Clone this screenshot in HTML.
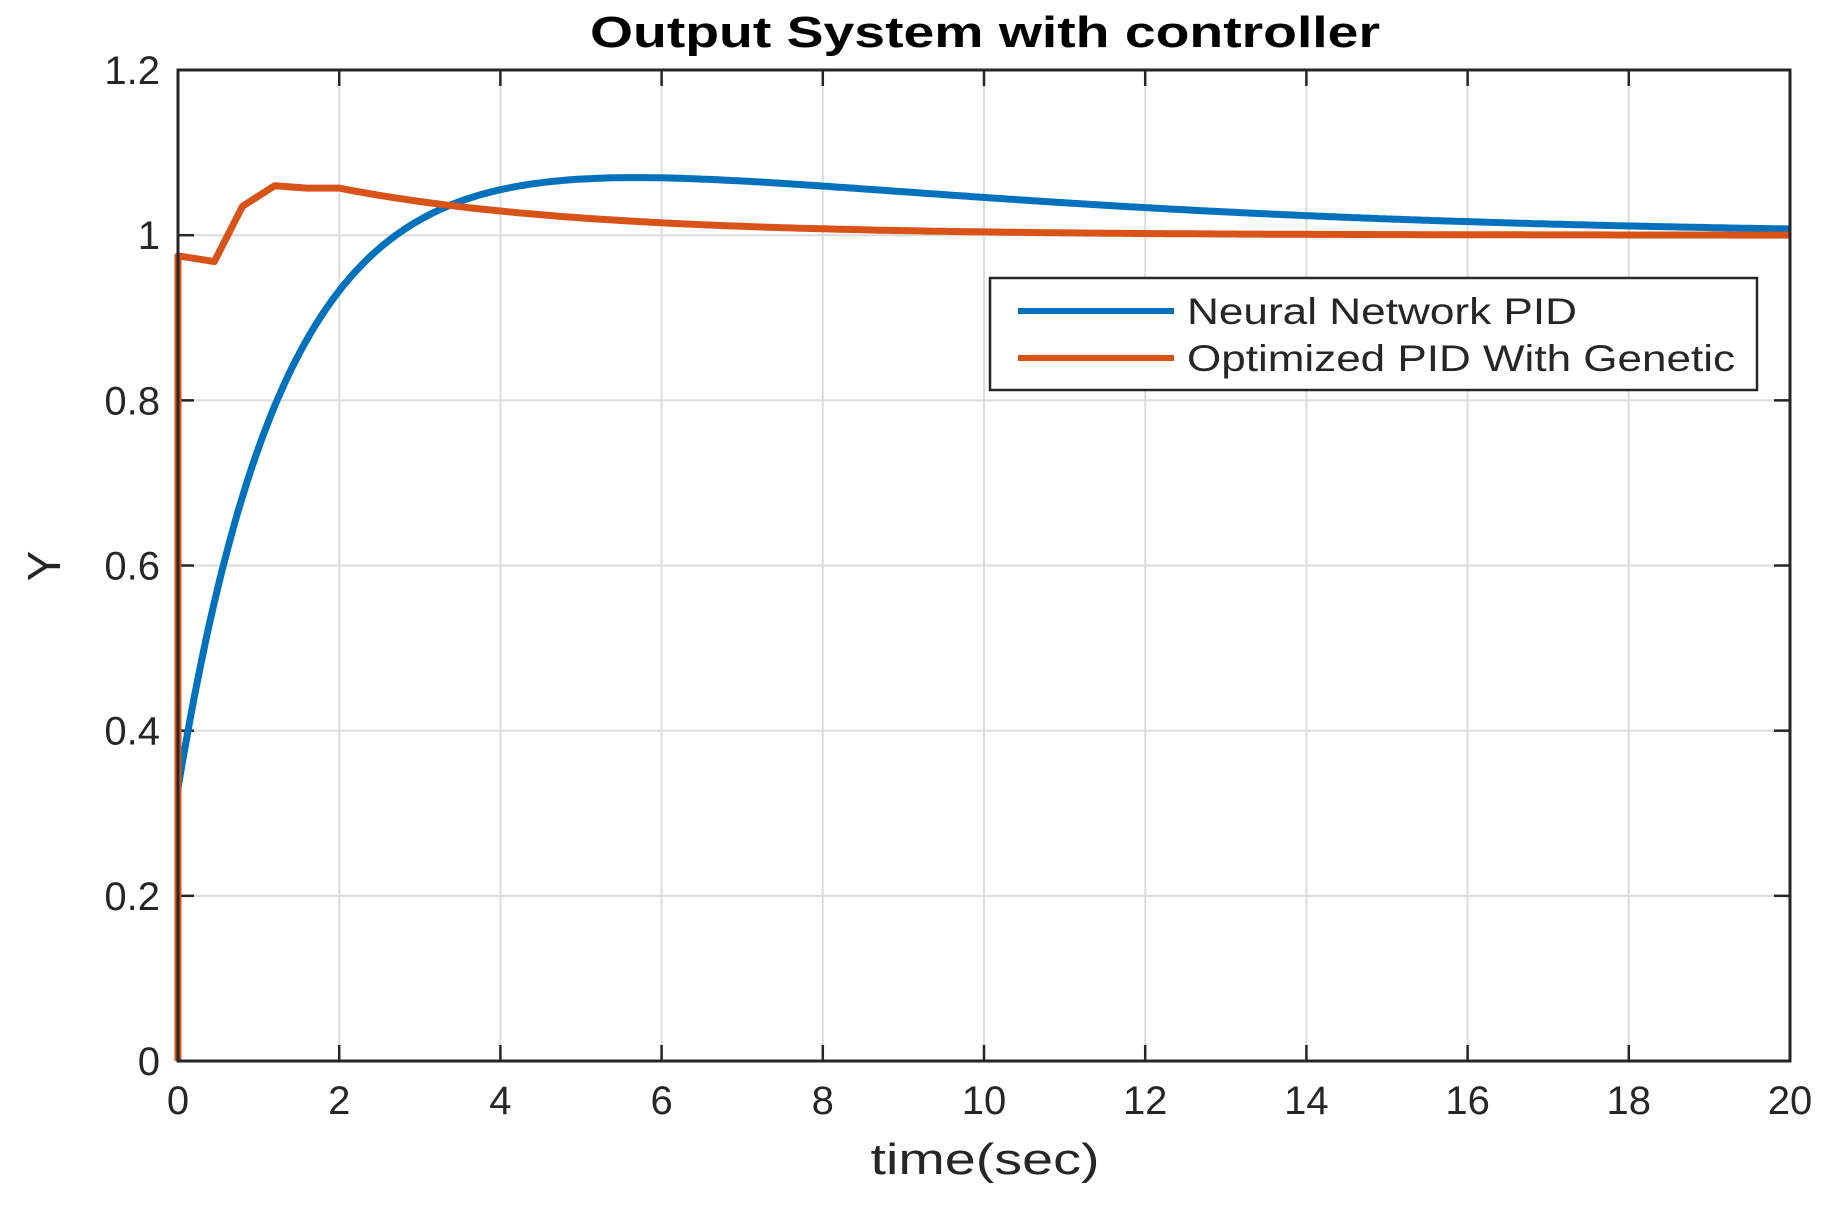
<!DOCTYPE html>
<html><head><meta charset="utf-8"><style>body{margin:0;background:#fff}svg{display:block}</style></head>
<body>
<svg id="s" width="1833" height="1209" xmlns="http://www.w3.org/2000/svg" font-family="Liberation Sans, sans-serif">
<rect width="1833" height="1209" fill="#fff"/>
<g id="grid" stroke="#dcdcdc" stroke-width="2"></g>
<g id="ticks" stroke="#262626" stroke-width="2.5"></g>
<g id="labels" font-size="40" fill="#262626"></g>
<path id="blue" fill="none" stroke="#0072BD" stroke-width="7" stroke-linejoin="round"/>
<path id="orange" fill="none" stroke="#D95319" stroke-width="7" stroke-linejoin="round"/>
<rect x="178" y="70" width="1612" height="991" fill="none" stroke="#262626" stroke-width="3"/>
<text x="985" y="47" font-size="44" font-weight="bold" text-anchor="middle" fill="#000" textLength="790" lengthAdjust="spacingAndGlyphs">Output System with controller</text>
<text x="985" y="1174" font-size="44" text-anchor="middle" fill="#262626" textLength="229" lengthAdjust="spacingAndGlyphs">time(sec)</text>
<text transform="translate(60,566) rotate(-90)" font-size="46" text-anchor="middle" fill="#262626">Y</text>
<rect x="990" y="278" width="767" height="112" fill="#fff" stroke="#262626" stroke-width="2.5"/>
<line x1="1018" y1="311" x2="1174" y2="311" stroke="#0072BD" stroke-width="6"/>
<line x1="1018" y1="358" x2="1174" y2="358" stroke="#D95319" stroke-width="6"/>
<text x="1187" y="324" font-size="37" fill="#262626" textLength="390" lengthAdjust="spacingAndGlyphs">Neural Network PID</text>
<text x="1187" y="371" font-size="37" fill="#262626" textLength="548" lengthAdjust="spacingAndGlyphs">Optimized PID With Genetic</text>
<script>
const X=t=>178+t*80.6, Y=v=>1061-v*825.8;
let g=document.getElementById('grid'),tk=document.getElementById('ticks'),lb=document.getElementById('labels'),ns='http://www.w3.org/2000/svg';
function el(p,tag,a,txt){let e=document.createElementNS(ns,tag);for(let k in a)e.setAttribute(k,a[k]);if(txt!==undefined)e.textContent=txt;p.appendChild(e);}
for(let i=0;i<=10;i++){let x=X(2*i);if(i>0&&i<10)el(g,'line',{x1:x,y1:70,x2:x,y2:1061});
el(tk,'line',{x1:x,y1:1061,x2:x,y2:1045});el(tk,'line',{x1:x,y1:70,x2:x,y2:86});
el(lb,'text',{x:x,y:1114,'text-anchor':'middle'},String(2*i));}
for(let j=0;j<=6;j++){let v=j*0.2,y=Y(v);if(j>0&&j<6)el(g,'line',{x1:178,y1:y,x2:1790,y2:y});
el(tk,'line',{x1:178,y1:y,x2:194,y2:y});el(tk,'line',{x1:1790,y1:y,x2:1774,y2:y});
el(lb,'text',{x:160,y:y+14,'text-anchor':'end'},j==0?'0':j==5?'1':(v.toFixed(1)));}
let b='';for(let t=0;t<=20.001;t+=0.05){let v=1+0.056*t*Math.exp(-t/4)-0.67*Math.exp(-t/1.25);b+=(b?'L':'M')+X(t).toFixed(1)+' '+Y(v).toFixed(1);}
document.getElementById('blue').setAttribute('d',b);
let pts=[[0,0],[0,0.975],[0.45,0.968],[0.8,1.035],[1.2,1.06],[1.6,1.057],[2,1.057]];
for(let t=2.1;t<=20.001;t+=0.1)pts.push([t,1+0.057*Math.exp(-(t-2)/3)]);
document.getElementById('orange').setAttribute('d',pts.map((p,i)=>(i?'L':'M')+X(p[0]).toFixed(1)+' '+Y(p[1]).toFixed(1)).join(''));
</script>
</svg>
</body></html>
